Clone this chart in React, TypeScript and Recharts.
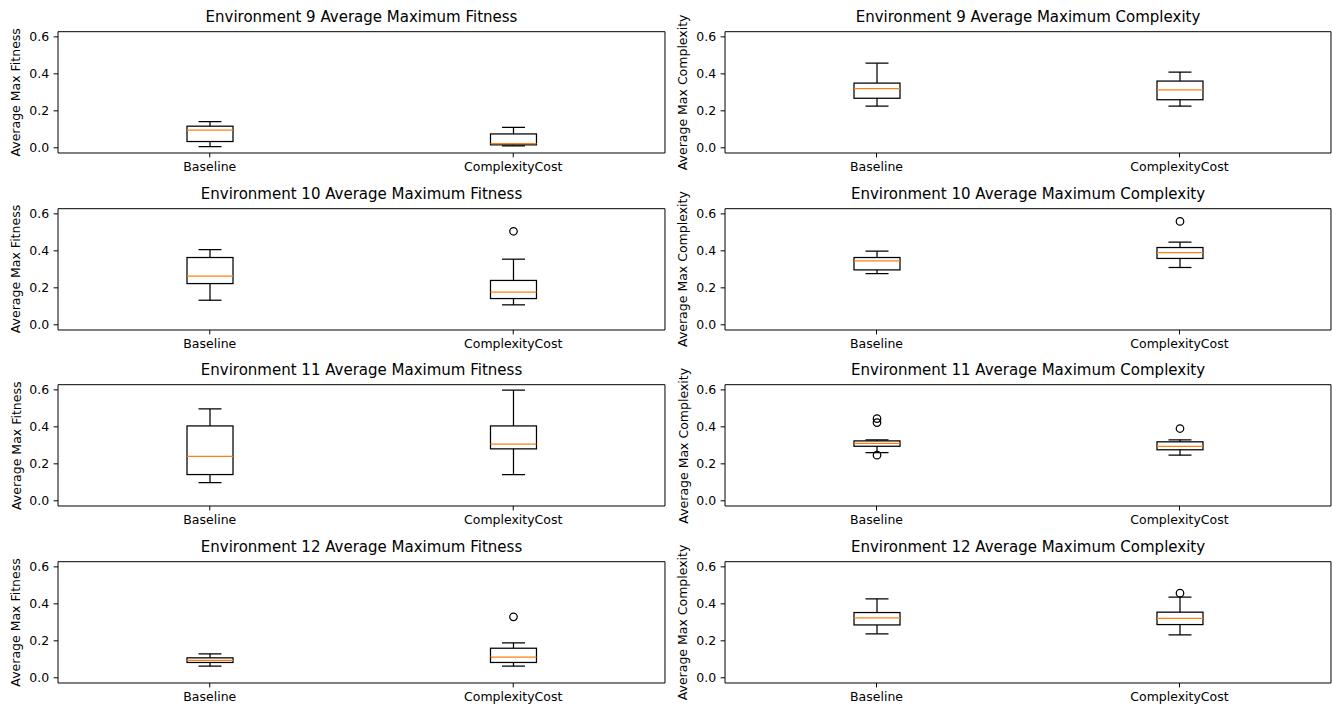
import React from "react";
import { Bar, ComposedChart, ReferenceLine, XAxis, YAxis } from "recharts";

const FONT = "'DejaVu Sans', sans-serif";
const GROUPS = ["Baseline", "ComplexityCost"];
const Y_TICKS = [0, 0.2, 0.4, 0.6];
const Y_DOMAIN: [number, number] = [-0.028, 0.628];

// five-number summaries: [lower whisker, Q1, median, Q3, upper whisker]
const ENV9_FIT_BASE = [0.007, 0.034, 0.095, 0.117, 0.142];
const ENV9_FIT_CC = [0.011, 0.016, 0.023, 0.075, 0.11];
const ENV9_CPX_BASE = [0.225, 0.268, 0.32, 0.35, 0.458];
const ENV9_CPX_CC = [0.225, 0.26, 0.313, 0.361, 0.41];
const ENV10_FIT_BASE = [0.133, 0.223, 0.263, 0.364, 0.407];
const ENV10_FIT_CC = [0.108, 0.142, 0.177, 0.24, 0.355];
const ENV10_CPX_BASE = [0.277, 0.297, 0.346, 0.364, 0.398];
const ENV10_CPX_CC = [0.31, 0.359, 0.391, 0.418, 0.447];
const ENV11_FIT_BASE = [0.099, 0.142, 0.24, 0.405, 0.497];
const ENV11_FIT_CC = [0.142, 0.281, 0.306, 0.405, 0.598];
const ENV11_CPX_BASE = [0.261, 0.295, 0.31, 0.324, 0.33];
const ENV11_CPX_CC = [0.247, 0.276, 0.295, 0.319, 0.33];
const ENV12_FIT_BASE = [0.063, 0.083, 0.094, 0.108, 0.13];
const ENV12_FIT_CC = [0.063, 0.083, 0.112, 0.16, 0.189];
const ENV12_CPX_BASE = [0.238, 0.286, 0.324, 0.353, 0.427];
const ENV12_CPX_CC = [0.232, 0.288, 0.321, 0.355, 0.436];

// fliers
const ENV10_FIT_CC_OUT = [0.506];
const ENV10_CPX_CC_OUT = [0.559];
const ENV11_CPX_BASE_OUT = [0.445, 0.423, 0.247];
const ENV11_CPX_CC_OUT = [0.391];
const ENV12_FIT_CC_OUT = [0.33];
const ENV12_CPX_CC_OUT = [0.458];

const FIT_LABEL = "Average Max Fitness";
const CPX_LABEL = "Average Max Complexity";

type Panel = {
  title: string;
  ylabel: string;
  base: number[];
  cc: number[];
  baseOut?: number[];
  ccOut?: number[];
};

const PANELS: Panel[] = [
  { title: "Environment 9 Average Maximum Fitness", ylabel: FIT_LABEL, base: ENV9_FIT_BASE, cc: ENV9_FIT_CC },
  { title: "Environment 9 Average Maximum Complexity", ylabel: CPX_LABEL, base: ENV9_CPX_BASE, cc: ENV9_CPX_CC },
  { title: "Environment 10 Average Maximum Fitness", ylabel: FIT_LABEL, base: ENV10_FIT_BASE, cc: ENV10_FIT_CC, ccOut: ENV10_FIT_CC_OUT },
  { title: "Environment 10 Average Maximum Complexity", ylabel: CPX_LABEL, base: ENV10_CPX_BASE, cc: ENV10_CPX_CC, ccOut: ENV10_CPX_CC_OUT },
  { title: "Environment 11 Average Maximum Fitness", ylabel: FIT_LABEL, base: ENV11_FIT_BASE, cc: ENV11_FIT_CC },
  { title: "Environment 11 Average Maximum Complexity", ylabel: CPX_LABEL, base: ENV11_CPX_BASE, cc: ENV11_CPX_CC, baseOut: ENV11_CPX_BASE_OUT, ccOut: ENV11_CPX_CC_OUT },
  { title: "Environment 12 Average Maximum Fitness", ylabel: FIT_LABEL, base: ENV12_FIT_BASE, cc: ENV12_FIT_CC, ccOut: ENV12_FIT_CC_OUT },
  { title: "Environment 12 Average Maximum Complexity", ylabel: CPX_LABEL, base: ENV12_CPX_BASE, cc: ENV12_CPX_CC, ccOut: ENV12_CPX_CC_OUT },
];

const CHART_W = 666;
const ROW_H = 176.7;
const TOP = 31.7;
const X_AXIS_H = 23.7;
const PLOT_H = ROW_H - TOP - X_AXIS_H;

function toRows(p: Panel) {
  return [
    { stats: p.base, out: p.baseOut ?? [] },
    { stats: p.cc, out: p.ccOut ?? [] },
  ].map((g, i) => {
    const all = [...g.stats, ...g.out];
    return { name: GROUPS[i], stats: g.stats, out: g.out, range: [Math.min(...all), Math.max(...all)] };
  });
}

function BoxShape(props: any) {
  const { x, y, width, height, payload } = props;
  if (!payload) return null;
  const [lo, hi] = payload.range;
  const top = Math.min(y, y + height);
  const span = Math.abs(height);
  const py = (v: number) => top + ((hi - v) / (hi - lo)) * span;
  const cx = x + width / 2;
  const [wl, q1, med, q3, wh] = payload.stats;
  const cap = width / 4;
  const sw = 1.25;
  return (
    <g>
      <line x1={cx} x2={cx} y1={py(wh)} y2={py(q3)} stroke="#000" strokeWidth={sw} />
      <line x1={cx} x2={cx} y1={py(q1)} y2={py(wl)} stroke="#000" strokeWidth={sw} />
      <line x1={cx - cap} x2={cx + cap} y1={py(wh)} y2={py(wh)} stroke="#000" strokeWidth={sw} />
      <line x1={cx - cap} x2={cx + cap} y1={py(wl)} y2={py(wl)} stroke="#000" strokeWidth={sw} />
      <rect x={x} y={py(q3)} width={width} height={py(q1) - py(q3)} fill="none" stroke="#000" strokeWidth={sw} />
      <line x1={x} x2={x + width} y1={py(med)} y2={py(med)} stroke="#ff7f0e" strokeWidth={sw} />
      {payload.out.map((v: number, i: number) => (
        <circle key={i} cx={cx} cy={py(v)} r={3.75} fill="none" stroke="#000" strokeWidth={sw} />
      ))}
    </g>
  );
}

function BoxPanel({ panel, col }: { panel: Panel; col: number }) {
  const data = toRows(panel);
  const axisW = col === 0 ? 58 : 59;
  const tickStyle = { fontSize: 12.5, fill: "#000", fontFamily: FONT };
  return (
    <ComposedChart width={CHART_W} height={ROW_H} data={data} margin={{ top: TOP, right: 1, bottom: 0, left: 0 }}>
      <XAxis
        dataKey="name"
        interval={0}
        height={X_AXIS_H}
        tickSize={4.4}
        tickMargin={4.4}
        tick={tickStyle}
        tickLine={{ stroke: "#000" }}
        axisLine={{ stroke: "#000" }}
      />
      <YAxis
        yAxisId="left"
        type="number"
        domain={Y_DOMAIN}
        allowDataOverflow
        ticks={Y_TICKS}
        width={axisW}
        tickSize={4.4}
        tickMargin={4.4}
        tick={tickStyle}
        tickFormatter={(v: number) => v.toFixed(1)}
        tickLine={{ stroke: "#000" }}
        axisLine={{ stroke: "#000" }}
      />
      {/* top and right spines */}
      <ReferenceLine yAxisId="left" y={Y_DOMAIN[1]} stroke="#000" strokeWidth={1} ifOverflow="visible" />
      <ReferenceLine yAxisId="left" x={GROUPS[1]} position="end" stroke="#000" strokeWidth={1} ifOverflow="visible" />
      <Bar yAxisId="left" dataKey="range" barSize={46} shape={BoxShape} isAnimationActive={false} />
    </ComposedChart>
  );
}

export default function App() {
  return (
    <div style={{ position: "absolute", left: 0, top: 0, width: 1332, height: 707, background: "#fff", fontFamily: FONT }}>
      {PANELS.map((p, i) => {
        const row = Math.floor(i / 2);
        const col = i % 2;
        return (
          <div key={p.title} style={{ position: "absolute", left: col * CHART_W, top: row * ROW_H }}>
            <BoxPanel panel={p} col={col} />
          </div>
        );
      })}
      <svg width={1332} height={707} style={{ position: "absolute", left: 0, top: 0, pointerEvents: "none" }}>
        {PANELS.map((p, i) => {
          const row = Math.floor(i / 2);
          const col = i % 2;
          const plotLeft = col * CHART_W + (col === 0 ? 58 : 59);
          const plotRight = col * CHART_W + CHART_W - 1;
          const rowTop = row * ROW_H;
          const ly = rowTop + TOP + PLOT_H / 2;
          const lx = plotLeft - 37.5;
          return (
            <g key={p.title} fontFamily={FONT} fill="#000">
              <text x={(plotLeft + plotRight) / 2} y={rowTop + 22} textAnchor="middle" fontSize={15}>
                {p.title}
              </text>
              <text x={lx} y={ly} textAnchor="middle" fontSize={12.5} transform={`rotate(-90 ${lx} ${ly})`}>
                {p.ylabel}
              </text>
            </g>
          );
        })}
      </svg>
    </div>
  );
}
